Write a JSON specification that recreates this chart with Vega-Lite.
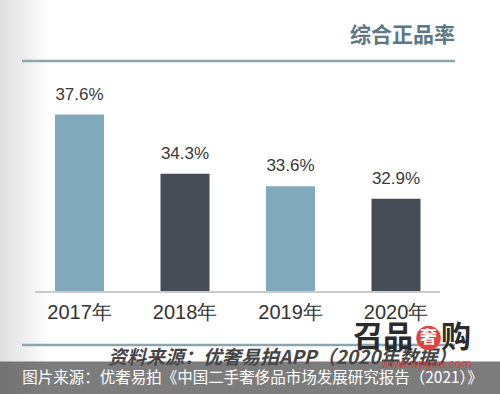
{
  "$schema": "https://vega.github.io/schema/vega-lite/v6.json",
  "width": 500,
  "height": 394,
  "autosize": "none",
  "padding": 0,
  "background": "#ffffff",
  "config": {"view": {"stroke": null}},
  "data": {"values": [
    {"year": "2017年", "rate": 37.6},
    {"year": "2018年", "rate": 34.3},
    {"year": "2019年", "rate": 33.6},
    {"year": "2020年", "rate": 32.9}
  ]},
  "resolve": {"scale": {"x": "independent"}},
  "layer": [
    {
      "data": {"values": [{}]},
      "mark": {"type": "rect", "fill": {"gradient": "linear", "x1": 0, "x2": 1, "y1": 0, "y2": 0, "stops": [{"offset": 0, "color": "#dedede"}, {"offset": 1, "color": "#ffffff"}]}},
      "encoding": {
        "x": {"datum": 0, "type": "quantitative", "scale": {"domain": [0, 1]}, "axis": null},
        "x2": {"datum": 0.1},
        "y": {"datum": 22, "type": "quantitative", "scale": {"domain": [22, 44], "zero": false, "nice": false}, "axis": null},
        "y2": {"datum": 44}
      }
    },
    {
      "data": {"values": [{}]},
      "mark": {"type": "rule", "stroke": "#8fa5ae", "strokeWidth": 2.5},
      "encoding": {
        "x": {"datum": 0.044, "type": "quantitative", "scale": {"domain": [0, 1]}, "axis": null},
        "x2": {"datum": 0.91},
        "y": {"datum": 40.594, "type": "quantitative", "scale": {"domain": [22, 44], "zero": false, "nice": false}, "axis": null}
      }
    },
    {
      "data": {"values": [{"t": "综合正品率"}]},
      "mark": {"type": "text", "align": "right", "baseline": "middle", "font": "Noto Sans CJK SC", "fontSize": 21, "fontWeight": "bold", "color": "#5d7784"},
      "encoding": {
        "x": {"datum": 0.91, "type": "quantitative", "scale": {"domain": [0, 1]}, "axis": null},
        "y": {"datum": 41.99, "type": "quantitative", "scale": {"domain": [22, 44], "zero": false, "nice": false}, "axis": null},
        "text": {"field": "t"}
      }
    },
    {
      "mark": {"type": "bar"},
      "encoding": {
        "x": {"field": "year", "type": "nominal", "sort": null, "scale": {"type": "band", "paddingInner": 0.5355, "paddingOuter": 0.6374, "align": 0.409}, "axis": null},
        "y": {"field": "rate", "type": "quantitative", "scale": {"domain": [22, 44], "zero": false, "nice": false}, "axis": null},
        "y2": {"datum": 27.7},
        "color": {"field": "year", "type": "nominal", "sort": null, "scale": {"range": ["#80aabb", "#464c56", "#80aabb", "#464c56"]}, "legend": null}
      }
    },
    {
      "transform": [{"calculate": "format(datum.rate, '.1f') + '%'", "as": "label"}],
      "mark": {"type": "text", "baseline": "middle", "dy": -20, "font": "Liberation Sans", "fontSize": 17, "color": "#3a3a3a"},
      "encoding": {
        "x": {"field": "year", "type": "nominal", "sort": null, "scale": {"type": "band", "paddingInner": 0.5355, "paddingOuter": 0.6374, "align": 0.409}, "axis": null},
        "y": {"field": "rate", "type": "quantitative", "scale": {"domain": [22, 44], "zero": false, "nice": false}, "axis": null},
        "text": {"field": "label"}
      }
    },
    {
      "mark": {"type": "text", "baseline": "middle", "font": "Liberation Sans", "fontSize": 20, "color": "#333333"},
      "encoding": {
        "x": {"field": "year", "type": "nominal", "sort": null, "scale": {"type": "band", "paddingInner": 0.5355, "paddingOuter": 0.6374, "align": 0.409}, "axis": null},
        "y": {"datum": 26.52, "type": "quantitative", "scale": {"domain": [22, 44], "zero": false, "nice": false}, "axis": null},
        "text": {"field": "year"}
      }
    },
    {
      "data": {"values": [{}]},
      "mark": {"type": "rule", "stroke": "#c8cacb", "strokeWidth": 2},
      "encoding": {
        "x": {"datum": 0.07, "type": "quantitative", "scale": {"domain": [0, 1]}, "axis": null},
        "x2": {"datum": 0.88},
        "y": {"datum": 27.7, "type": "quantitative", "scale": {"domain": [22, 44], "zero": false, "nice": false}, "axis": null}
      }
    },
    {
      "data": {"values": [{}]},
      "mark": {"type": "rule", "stroke": "#8fa5ae", "strokeWidth": 2.5},
      "encoding": {
        "x": {"datum": 0.044, "type": "quantitative", "scale": {"domain": [0, 1]}, "axis": null},
        "x2": {"datum": 0.91},
        "y": {"datum": 24.74, "type": "quantitative", "scale": {"domain": [22, 44], "zero": false, "nice": false}, "axis": null}
      }
    },
    {
      "data": {"values": [{"t": "资料来源：优奢易拍APP（2020年数据）"}]},
      "mark": {"type": "text", "align": "left", "baseline": "middle", "font": "Noto Sans CJK SC", "fontSize": 19, "fontWeight": "bold", "fontStyle": "italic", "color": "#444444"},
      "encoding": {
        "x": {"datum": 0.216, "type": "quantitative", "scale": {"domain": [0, 1]}, "axis": null},
        "y": {"datum": 24.01, "type": "quantitative", "scale": {"domain": [22, 44], "zero": false, "nice": false}, "axis": null},
        "text": {"field": "t"}
      }
    },
    {
      "data": {"values": [{"t": "召品"}]},
      "mark": {"type": "text", "align": "left", "baseline": "middle", "font": "Noto Sans CJK SC", "fontSize": 30, "fontWeight": "bold", "color": "#2b2b2b"},
      "encoding": {
        "x": {"datum": 0.706, "type": "quantitative", "scale": {"domain": [0, 1]}, "axis": null},
        "y": {"datum": 25.127, "type": "quantitative", "scale": {"domain": [22, 44], "zero": false, "nice": false}, "axis": null},
        "text": {"field": "t"}
      }
    },
    {
      "data": {"values": [{}]},
      "mark": {"type": "point", "shape": "circle", "filled": true, "size": 600, "color": "#e0433f", "opacity": 1},
      "encoding": {
        "x": {"datum": 0.857, "type": "quantitative", "scale": {"domain": [0, 1]}, "axis": null},
        "y": {"datum": 25.127, "type": "quantitative", "scale": {"domain": [22, 44], "zero": false, "nice": false}, "axis": null}
      }
    },
    {
      "data": {"values": [{"t": "奢"}]},
      "mark": {"type": "text", "align": "center", "baseline": "middle", "font": "Noto Sans CJK SC", "fontSize": 17, "fontWeight": "bold", "color": "#ffffff"},
      "encoding": {
        "x": {"datum": 0.857, "type": "quantitative", "scale": {"domain": [0, 1]}, "axis": null},
        "y": {"datum": 25.127, "type": "quantitative", "scale": {"domain": [22, 44], "zero": false, "nice": false}, "axis": null},
        "text": {"field": "t"}
      }
    },
    {
      "data": {"values": [{"t": "购"}]},
      "mark": {"type": "text", "align": "left", "baseline": "middle", "font": "Noto Sans CJK SC", "fontSize": 30, "fontWeight": "bold", "color": "#2b2b2b"},
      "encoding": {
        "x": {"datum": 0.882, "type": "quantitative", "scale": {"domain": [0, 1]}, "axis": null},
        "y": {"datum": 25.127, "type": "quantitative", "scale": {"domain": [22, 44], "zero": false, "nice": false}, "axis": null},
        "text": {"field": "t"}
      }
    },
    {
      "data": {"values": [{}]},
      "mark": {"type": "rect", "fill": "#4a4a4a", "opacity": 0.72},
      "encoding": {
        "x": {"datum": 0, "type": "quantitative", "scale": {"domain": [0, 1]}, "axis": null},
        "x2": {"datum": 1},
        "y": {"datum": 22, "type": "quantitative", "scale": {"domain": [22, 44], "zero": false, "nice": false}, "axis": null},
        "y2": {"datum": 23.815}
      }
    },
    {
      "data": {"values": [{"t": "www.wpgou.com"}]},
      "mark": {"type": "text", "align": "center", "baseline": "middle", "font": "Liberation Sans", "fontSize": 12, "color": "#d9403c", "opacity": 0.85},
      "encoding": {
        "x": {"datum": 0.853, "type": "quantitative", "scale": {"domain": [0, 1]}, "axis": null},
        "y": {"datum": 23.675, "type": "quantitative", "scale": {"domain": [22, 44], "zero": false, "nice": false}, "axis": null},
        "text": {"field": "t"}
      }
    },
    {
      "data": {"values": [{"t": "图片来源：优奢易拍《中国二手奢侈品市场发展研究报告（2021）》"}]},
      "mark": {"type": "text", "align": "center", "baseline": "middle", "font": "Noto Sans CJK SC", "fontSize": 15.5, "color": "#ffffff"},
      "encoding": {
        "x": {"datum": 0.505, "type": "quantitative", "scale": {"domain": [0, 1]}, "axis": null},
        "y": {"datum": 22.893, "type": "quantitative", "scale": {"domain": [22, 44], "zero": false, "nice": false}, "axis": null},
        "text": {"field": "t"}
      }
    }
  ]
}
